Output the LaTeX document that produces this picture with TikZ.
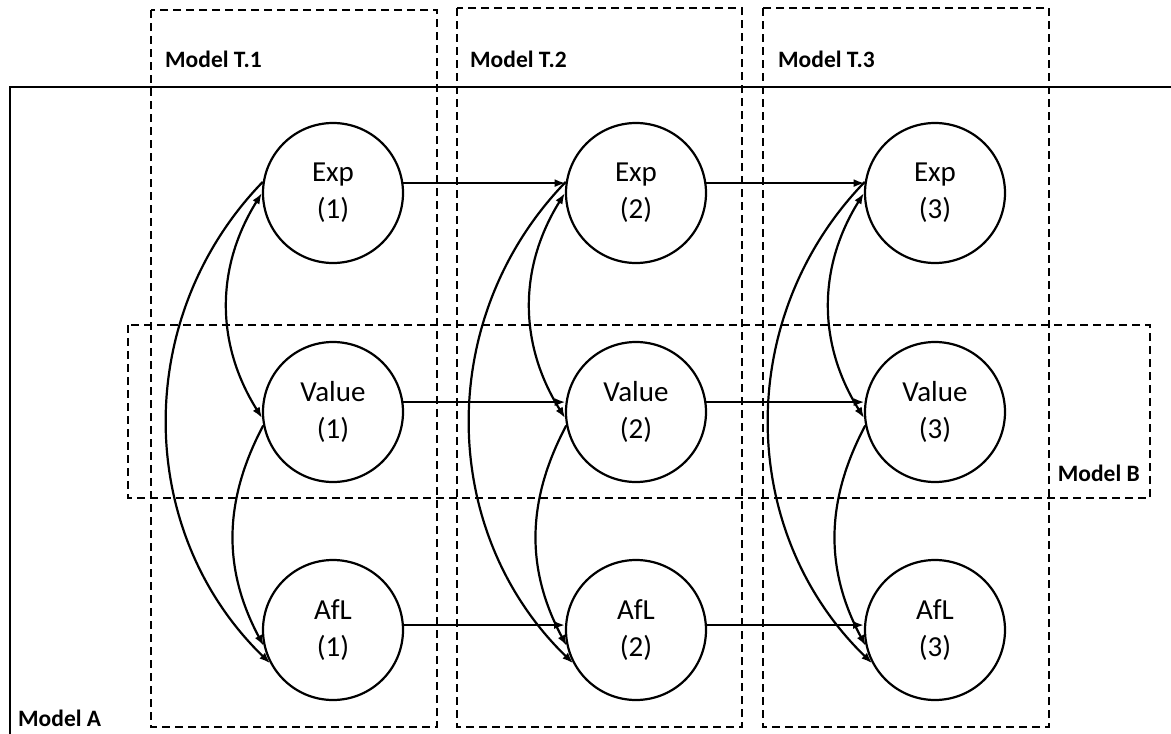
\documentclass[tikz,border=0pt]{standalone}
\usepackage{fontspec}
\setmainfont{Carlito}
\usepackage{tikz}
\usetikzlibrary{arrows.meta}

\tikzset{
	var/.style = {draw, circle, line width = 2.2pt, minimum size = 140pt, inner sep = 0pt, align = center, font = \fontsize{29}{37}\selectfont},
	modelbox/.style = {draw, line width = 2.2pt, dash pattern = on 8pt off 5pt},
	modelname/.style = {inner sep = 0pt, font = \fontsize{23.5}{28}\selectfont\bfseries},
	link/.style = {line width = 2.2pt},
}

\begin{document}
\begin{tikzpicture}[x = 1pt, y = -1pt, >={Latex[length = 11pt, width = 8pt]}]
	\useasboundingbox (0,0) rectangle (1171,734);

	% model boxes
	\draw[line width = 2.2pt] (10,745) -- (10,87) -- (1180,87);
	\draw[modelbox] (151,10) rectangle (437,727);
	\draw[modelbox] (457,8) rectangle (742,727);
	\draw[modelbox] (763,8) rectangle (1049,727);
	\draw[modelbox] (128,325) rectangle (1150,498);

	\node[modelname, anchor = base west] (mt1) at (165,67) {Model T.1};
	\node[modelname, anchor = base west] (mt2) at (470,67) {Model T.2};
	\node[modelname, anchor = base west] (mt3) at (778,67) {Model T.3};
	\node[modelname, anchor = base east] (mb) at (1140,481) {Model B};
	\node[modelname, anchor = base west] (ma) at (18,726) {Model A};

	% variables
	\node[var] (e1) at (333,193) {Exp\\(1)};
	\node[var] (v1) at (333,412) {Value\\(1)};
	\node[var] (a1) at (333,630) {AfL\\(1)};

	\node[var] (e2) at (636,193) {Exp\\(2)};
	\node[var] (v2) at (636,412) {Value\\(2)};
	\node[var] (a2) at (636,630) {AfL\\(2)};

	\node[var] (e3) at (935,193) {Exp\\(3)};
	\node[var] (v3) at (935,412) {Value\\(3)};
	\node[var] (a3) at (935,630) {AfL\\(3)};

	% paths over time
	\draw[link, ->] (e1.8) -- (e2.172);
	\draw[link, ->] (v1.8) -- (v2.172);
	\draw[link, ->] (a1.4) -- (a2.176);
	\draw[link, ->] (e2.8) -- (e3.172);
	\draw[link, ->] (v2.8) -- (v3.172);
	\draw[link, ->] (a2.4) -- (a3.176);

	% paths within a wave
	\foreach \t in {1,2,3} {
		\draw[link, <->] (e\t.180) to[bend right = 32] (v\t.185);
		\draw[link, ->] (v\t.191) to[bend right = 28] (a\t.193);
		\draw[link, ->] (e\t.171) to[bend right = 45] (a\t.208);
	}

\end{tikzpicture}
\end{document}
